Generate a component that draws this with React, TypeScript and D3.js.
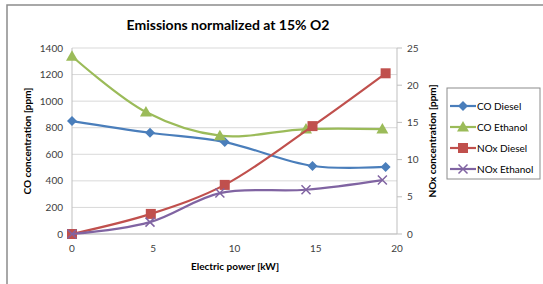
import React from "react";
import * as d3 from "d3";

const title = "Emissions normalized at 15% O2";
const xTicks = [0, 5, 10, 15, 20];
const leftTicks = [0, 200, 400, 600, 800, 1000, 1200, 1400];
const rightTicks = [0, 5, 10, 15, 20, 25];

const coDieselX = [0, 4.8, 9.4, 14.8, 19.3];
const coDieselY = [850, 762, 692, 512, 505];
const coEthanolX = [0, 4.55, 9.1, 14.4, 19.1];
const coEthanolY = [1338, 918, 740, 790, 790];
const noxDieselX = [0, 4.85, 9.4, 14.8, 19.3];
const noxDieselY = [0, 2.7, 6.6, 14.5, 21.6];
const noxEthanolX = [0, 4.8, 9.1, 14.4, 19.1];
const noxEthanolY = [0, 1.6, 5.5, 5.95, 7.25];

const seriesNames = ["CO Diesel", "CO Ethanol", "NOx Diesel", "NOx Ethanol"];

const FONT = "Lato, 'Liberation Sans', sans-serif";

export default function App() {
  const W = 543, H = 284;
  const x = d3.scaleLinear().domain([0, 20]).range([72, 397]);
  const yL = d3.scaleLinear().domain([0, 1400]).range([234, 48]);
  const yR = d3.scaleLinear().domain([0, 25]).range([234, 48]);

  const series = [
    { name: seriesNames[0], xs: coDieselX, ys: coDieselY, y: yL, color: "#4a7ebb", marker: "diamond" },
    { name: seriesNames[1], xs: coEthanolX, ys: coEthanolY, y: yL, color: "#9bbb59", marker: "triangle" },
    { name: seriesNames[2], xs: noxDieselX, ys: noxDieselY, y: yR, color: "#c0504d", marker: "square" },
    { name: seriesNames[3], xs: noxEthanolX, ys: noxEthanolY, y: yR, color: "#8064a2", marker: "x" },
  ];

  const marker = (type: string, cx: number, cy: number, color: string, key: string | number) => {
    if (type === "diamond") {
      const s = 5;
      return <path key={key} d={`M${cx},${cy - s}L${cx + s},${cy}L${cx},${cy + s}L${cx - s},${cy}Z`} fill={color} />;
    }
    if (type === "triangle") {
      const s = 6;
      return <path key={key} d={`M${cx},${cy - s}L${cx + s},${cy + s * 0.75}L${cx - s},${cy + s * 0.75}Z`} fill={color} />;
    }
    if (type === "square") {
      const s = 5;
      return <rect key={key} x={cx - s} y={cy - s} width={2 * s} height={2 * s} fill={color} />;
    }
    const s = 4.5;
    return (
      <path key={key} d={`M${cx - s},${cy - s}L${cx + s},${cy + s}M${cx - s},${cy + s}L${cx + s},${cy - s}`} stroke={color} strokeWidth={1.5} fill="none" />
    );
  };

  const legendY = [106, 127, 148, 169];

  return (
    <svg width={W} height={H} style={{ position: "absolute", left: 0, top: 0 }} fontFamily={FONT}>
      <rect x={0} y={0} width={W} height={H} fill="#fff" />
      <rect x={7} y={5} width={600} height={400} fill="none" stroke="#8c8c8c" strokeWidth={1.5} />
      <text x={228} y={30} textAnchor="middle" fontSize={14} fontWeight="bold" fill="#000">{title}</text>

      {leftTicks.map((t) => (
        <line key={"g" + t} x1={72} x2={397} y1={yL(t)} y2={yL(t)} stroke="#d9d9d9" strokeWidth={1} />
      ))}
      <line x1={72} x2={72} y1={48} y2={234} stroke="#bfbfbf" />
      <line x1={397} x2={397} y1={48} y2={234} stroke="#bfbfbf" />
      <line x1={72} x2={397} y1={234} y2={234} stroke="#bfbfbf" />
      {rightTicks.map((t) => (
        <line key={"rt" + t} x1={397} x2={402} y1={yR(t)} y2={yR(t)} stroke="#bfbfbf" />
      ))}
      {leftTicks.map((t) => (
        <text key={"lt" + t} x={63} y={yL(t) + 3.5} textAnchor="end" fontSize={10} fill="#404040">{t}</text>
      ))}
      {rightTicks.map((t) => (
        <text key={"rl" + t} x={407} y={yR(t) + 3.5} textAnchor="start" fontSize={10} fill="#404040">{t}</text>
      ))}
      {xTicks.map((t) => (
        <text key={"xt" + t} x={x(t)} y={252} textAnchor="middle" fontSize={10} fill="#404040">{t}</text>
      ))}
      <text x={235} y={270} textAnchor="middle" fontSize={10} fontWeight="bold" fill="#000">Electric power [kW]</text>
      <text transform="translate(31,141) rotate(-90)" textAnchor="middle" fontSize={10} fontWeight="bold" fill="#000">CO concentration [ppm]</text>
      <text transform="translate(436,141) rotate(-90)" textAnchor="middle" fontSize={10} fontWeight="bold" fill="#000">NOx concentration [ppm]</text>

      {series.map((s) => {
        const pts: [number, number][] = s.xs.map((v, i) => [x(v), s.y(s.ys[i])]);
        const line = d3.line().curve(d3.curveCatmullRom.alpha(0.5))(pts) || "";
        return (
          <g key={s.name}>
            <path d={line} fill="none" stroke={s.color} strokeWidth={2.2} />
            {pts.map((p, i) => marker(s.marker, p[0], p[1], s.color, i))}
          </g>
        );
      })}

      <rect x={447} y={88} width={93} height={91} fill="#fff" stroke="#8c8c8c" strokeWidth={1} />
      {series.map((s, i) => (
        <g key={"lg" + s.name}>
          <line x1={450} x2={476} y1={legendY[i]} y2={legendY[i]} stroke={s.color} strokeWidth={2.2} />
          {marker(s.marker, 463, legendY[i], s.color, "m")}
          <text x={477} y={legendY[i] + 3.5} fontSize={10} fill="#000">{s.name}</text>
        </g>
      ))}
    </svg>
  );
}
